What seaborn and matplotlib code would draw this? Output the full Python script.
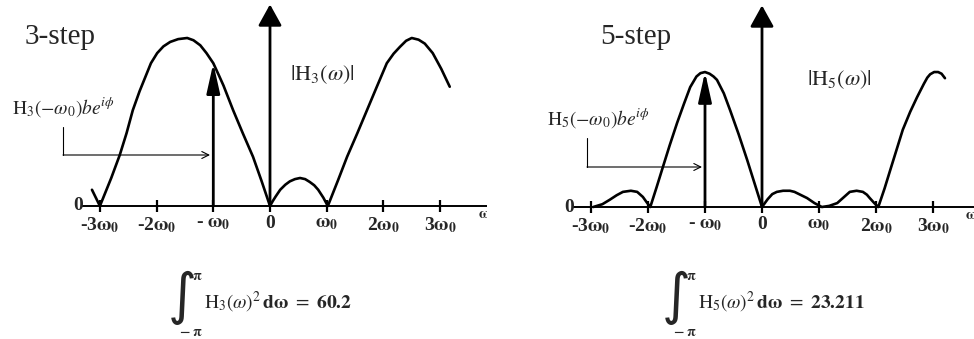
import matplotlib
matplotlib.use("Agg")
import matplotlib.pyplot as plt
import seaborn as sns

# frequency in units of omega_0, magnitude
om3 = [-3.14, -3.0, -2.9, -2.8, -2.65, -2.53, -2.42, -2.3, -2.2, -2.1, -1.99, -1.88,
       -1.76, -1.62, -1.46, -1.35, -1.23, -1.12, -1.0, -0.9, -0.82, -0.65, -0.48,
       -0.3, -0.15, 0.0, 0.05, 0.1, 0.18, 0.27, 0.35, 0.44, 0.53, 0.62, 0.70, 0.78,
       0.85, 0.94, 1.02, 1.2, 1.36, 1.54, 1.71, 1.88, 2.06, 2.18, 2.29, 2.4, 2.5,
       2.62, 2.73, 2.87, 3.02, 3.17]
h3 = [0.29, 0.0, 0.25, 0.5, 0.91, 1.3, 1.71, 2.05, 2.3, 2.55, 2.73, 2.85,
      2.93, 2.98, 3.0, 2.96, 2.87, 2.73, 2.55, 2.33, 2.15, 1.71, 1.3,
      0.88, 0.45, 0.0, 0.09, 0.17, 0.29, 0.38, 0.44, 0.48, 0.5, 0.48, 0.43, 0.37,
      0.29, 0.15, 0.0, 0.46, 0.88, 1.3, 1.71, 2.12, 2.55, 2.72, 2.84, 2.95, 3.0,
      2.97, 2.9, 2.73, 2.45, 2.13]

om5 = [-2.96, -2.8, -2.67, -2.55, -2.44, -2.3, -2.19, -2.09, -2.02, -1.96, -1.85,
       -1.74, -1.62, -1.49, -1.37, -1.26, -1.15, -1.08, -1.0, -0.92, -0.85, -0.79,
       -0.67, -0.56, -0.41, -0.26, -0.13, 0.0, 0.1, 0.18, 0.26, 0.37, 0.49, 0.57,
       0.65, 0.79, 0.92, 1.05, 1.18, 1.32, 1.43, 1.54, 1.66, 1.77, 1.84, 1.89, 1.97,
       2.04, 2.15, 2.25, 2.36, 2.47, 2.6, 2.72, 2.84, 2.9, 2.95, 3.02, 3.09, 3.15, 3.21]
h5 = [0.0, 0.05, 0.13, 0.21, 0.27, 0.29, 0.27, 0.18, 0.08, 0.0, 0.35,
      0.71, 1.1, 1.5, 1.84, 2.14, 2.33, 2.39, 2.41, 2.38, 2.33, 2.27,
      2.03, 1.73, 1.3, 0.84, 0.42, 0.0, 0.14, 0.23, 0.27, 0.29, 0.29, 0.27,
      0.23, 0.16, 0.07, 0.0, 0.02, 0.07, 0.17, 0.27, 0.29, 0.27, 0.22, 0.16, 0.07,
      0.0, 0.33, 0.66, 1.02, 1.38, 1.7, 1.96, 2.2, 2.31, 2.37, 2.41, 2.41, 2.38, 2.30]

tick_vals = [-3, -2, -1, 0, 1, 2, 3]
tick_labels = [r'-3$\mathbf{\omega_0}$', r'-2$\mathbf{\omega_0}$', r'- $\mathbf{\omega_0}$',
               '0', r'$\mathbf{\omega_0}$', r'2$\mathbf{\omega_0}$', r'3$\mathbf{\omega_0}$']
axis_top = 3.6
h3_at_w0 = 2.55
h5_at_w0 = 2.41

sns.set_style("white")
plt.rcParams['font.family'] = ['Liberation Serif', 'DejaVu Serif']
plt.rcParams['mathtext.fontset'] = 'stix'

W, H = 974, 339
fig = plt.figure(figsize=(9.74, 3.39), dpi=100)


def fx(px):
    return px / W


def fy(py):
    return 1 - py / H


def panel(ax, om, h, xlim, ylim, h_arrow, n, integral, px0):
    sns.lineplot(x=om, y=h, ax=ax, color='black', lw=1.9, sort=False)
    ax.lines[-1].set_solid_joinstyle('round')
    ax.set_xlim(*xlim)
    ax.set_ylim(*ylim)
    for s in ['top', 'right', 'left']:
        ax.spines[s].set_visible(False)
    ax.spines['bottom'].set_position(('data', 0))
    ax.spines['bottom'].set_bounds(-3.3, xlim[1])
    ax.spines['bottom'].set_linewidth(1.4)
    ax.spines['bottom'].set_color('black')
    ax.set_yticks([])
    ax.set_xticks(tick_vals)
    ax.set_xticklabels(tick_labels, fontsize=14, fontweight='bold')
    ax.tick_params(axis='x', direction='inout', length=9, width=1.6,
                   color='black', pad=2, bottom=True)
    ax.set_xlabel('')
    ax.set_ylabel('')
    ax.text(-3.3, 0, '0', ha='right', va='center', fontsize=14, fontweight='bold')
    ax.text(xlim[1] - 0.04, -0.15, r'$\mathbf{\omega}$', ha='center', va='center',
            fontsize=11, clip_on=True)
    # axes arrow and component arrow
    ax.annotate('', xy=(0, axis_top), xytext=(0, 0),
                arrowprops=dict(arrowstyle='-|>,head_length=1.3,head_width=0.72',
                                lw=2, color='black', shrinkA=0, shrinkB=0))
    ax.annotate('', xy=(-1, h_arrow), xytext=(-1, 0),
                arrowprops=dict(arrowstyle='-|>,head_length=1.8,head_width=0.4',
                                lw=2, color='black', shrinkA=0, shrinkB=0))

    # titles and labels (pixel positions)
    fig.text(fx(px0 + (25 if n == 3 else 113)), fy(37), f'{n}-step',
             fontsize=21, ha='left', va='center')
    fig.text(fx(px0 + (290 if n == 3 else 320)), fy(75 if n == 3 else 80),
             r'$|\mathrm{H}_%d(\omega)|$' % n, fontsize=16, ha='left', va='center')
    lx = px0 + (12 if n == 3 else 60)
    ly = 107 if n == 3 else 118
    fig.text(fx(lx), fy(ly), r'$\mathrm{H}_%d(\mathrm{-}\omega_0)\mathbf{\mathit{be}}^{i\phi}$' % n,
             fontsize=14, ha='left', va='center')
    cx = px0 + (63 if n == 3 else 100)
    top = 127 if n == 3 else 138
    mid = 155 if n == 3 else 167
    ex = px0 + (210 if n == 3 else 215)
    fig.add_artist(plt.Line2D([fx(cx), fx(cx)], [fy(top), fy(mid)], color='black', lw=0.8))
    ax.annotate('', xy=(fx(ex), fy(mid)), xytext=(fx(cx), fy(mid)),
                xycoords='figure fraction', textcoords='figure fraction',
                arrowprops=dict(arrowstyle='->,head_length=0.5,head_width=0.25',
                                lw=0.8, color='black', shrinkA=0, shrinkB=0))

    # integral
    ix = px0 + (168 if n == 3 else 175)
    fig.text(fx(ix), fy(298), '\u222b', family='DejaVu Sans', fontsize=40,
             ha='left', va='center')
    fig.text(fx(ix + 24), fy(276), r'$\mathbf{\pi}$', fontsize=10, ha='left', va='center')
    fig.text(fx(ix + 11), fy(332), r'$\mathbf{-\ \pi}$', fontsize=10, ha='left', va='center')
    fig.text(fx(ix + 36), fy(302),
             r'$\mathrm{H}_%d\left(\omega\right)^2\,\mathbf{d\omega}\ =\ \mathbf{%s}$' % (n, integral),
             fontsize=14, ha='left', va='center')


ax1 = fig.add_axes([0, 0, 0.5, 1])
ax2 = fig.add_axes([0.5, 0, 0.5, 1])
panel(ax1, om3, h3, (-270 / 56.7, 217 / 56.7), (-133 / 56, 206 / 56), h3_at_w0, 3, '60.2', 0)
panel(ax2, om5, h5, (-275 / 57, 212 / 57), (-132 / 56, 207 / 56), h5_at_w0, 5, '23.211', 487)

fig.savefig('out.png', dpi=100)
